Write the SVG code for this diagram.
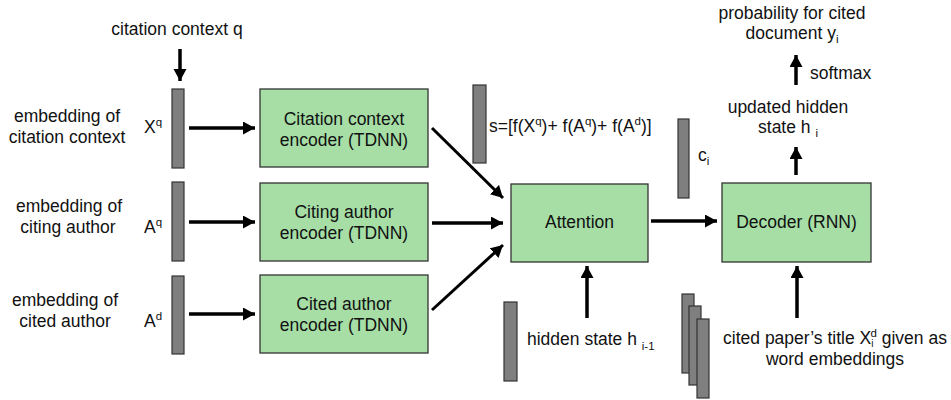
<svg xmlns="http://www.w3.org/2000/svg" width="951" height="400" viewBox="0 0 951 400">
<style>
text{font-family:"Liberation Sans",Arial,sans-serif;font-size:17.5px;fill:#111}
.box{fill:#a6dea6;stroke:#333;stroke-width:1.3}
.bar{fill:#7f7f7f;stroke:#333;stroke-width:1.2}
.arr{stroke:#000;stroke-width:3.5;fill:none;marker-end:url(#ah)}
.sm{font-size:11.5px}
.xs{font-size:10px}
.m{text-anchor:middle}
</style>
<defs>
<marker id="ah" markerUnits="userSpaceOnUse" markerWidth="14" markerHeight="14" refX="12" refY="6.5" orient="auto">
<path d="M0,0 L12,6.5 L0,13 Z" fill="#000"/>
</marker>
</defs>
<rect width="951" height="400" fill="#fff"/>

<g id="labels">
<text class="m" x="177" y="35">citation context q</text>
<text class="m" x="67" y="122">embedding of</text>
<text class="m" x="67" y="143">citation context</text>
<text class="m" x="69" y="212">embedding of</text>
<text class="m" x="68" y="233">citing author</text>
<text class="m" x="65" y="306">embedding of</text>
<text class="m" x="65" y="327">cited author</text>
</g>

<g id="xq"><rect class="bar" x="172" y="89" width="12" height="79"/><text x="144" y="133">X<tspan class="sm" dy="-7">q</tspan></text></g>
<g id="aq"><rect class="bar" x="172" y="182" width="12" height="79"/><text x="144" y="233">A<tspan class="sm" dy="-7">q</tspan></text></g>
<g id="ad"><rect class="bar" x="172" y="276" width="12" height="78"/><text x="144" y="327">A<tspan class="sm" dy="-7">d</tspan></text></g>

<g id="enc1"><rect class="box" x="260" y="89" width="168" height="78"/><text class="m" x="344" y="125">Citation context</text><text class="m" x="344" y="146">encoder (TDNN)</text></g>
<g id="enc2"><rect class="box" x="260" y="183" width="168" height="78"/><text class="m" x="344" y="218">Citing author</text><text class="m" x="344" y="239">encoder (TDNN)</text></g>
<g id="enc3"><rect class="box" x="260" y="275" width="168" height="78"/><text class="m" x="344" y="310">Cited author</text><text class="m" x="344" y="331">encoder (TDNN)</text></g>

<g id="s"><rect class="bar" x="473" y="85" width="13" height="78"/><text x="489" y="132">s=[f(X<tspan class="sm" dy="-7">q</tspan><tspan dy="7">)+ f(A</tspan><tspan class="sm" dy="-7">q</tspan><tspan dy="7">)+ f(A</tspan><tspan class="sm" dy="-7">d</tspan><tspan dy="7">)]</tspan></text></g>

<g id="attention"><rect class="box" x="511" y="184" width="137" height="78"/><text class="m" x="579.5" y="228">Attention</text></g>

<g id="ci"><rect class="bar" x="678" y="119" width="11" height="79"/><text x="698" y="161">c<tspan class="sm" dy="4">i</tspan></text></g>

<g id="decoder"><rect class="box" x="722" y="183" width="149" height="79"/><text class="m" x="796.5" y="228">Decoder (RNN)</text></g>

<g id="outputs">
<text class="m" x="788" y="113">updated hidden</text>
<text class="m" x="788" y="133">state h <tspan class="sm" dy="4">i</tspan></text>
<text x="810" y="79">softmax</text>
<text class="m" x="792" y="19">probability for cited</text>
<text class="m" x="792" y="39">document y<tspan class="sm" dy="4">i</tspan></text>
</g>

<g id="hidden"><rect class="bar" x="504" y="302" width="13" height="79"/><text x="527" y="345">hidden state h <tspan class="sm" dy="5">i-1</tspan></text></g>

<g id="title">
<rect class="bar" x="682" y="294" width="12" height="79"/>
<rect class="bar" x="689" y="306" width="12" height="79"/>
<rect class="bar" x="697" y="319" width="12" height="79"/>
<text class="m" x="835" y="344">cited paper’s title X<tspan class="xs" dy="3">i</tspan><tspan class="sm" dx="-3" dy="-10">d</tspan><tspan dy="7"> given as</tspan></text>
<text class="m" x="835" y="365">word embeddings</text>
</g>

<g id="connectors">
<line class="arr" x1="180" y1="49" x2="180" y2="81"/>
<line class="arr" x1="189" y1="128" x2="255" y2="128"/>
<line class="arr" x1="189" y1="222" x2="255" y2="222"/>
<line class="arr" x1="189" y1="314" x2="255" y2="314"/>
<line class="arr" x1="432" y1="128" x2="503" y2="198" style="stroke-width:3"/>
<line class="arr" x1="432" y1="223" x2="503" y2="223"/>
<line class="arr" x1="432" y1="310" x2="503" y2="245" style="stroke-width:3"/>
<line class="arr" x1="651" y1="221" x2="717" y2="221"/>
<line class="arr" x1="587" y1="318" x2="587" y2="266"/>
<line class="arr" x1="797" y1="318" x2="797" y2="266"/>
<line class="arr" x1="796" y1="175" x2="796" y2="147"/>
<line class="arr" x1="796" y1="85" x2="796" y2="55"/>
</g>
</svg>
